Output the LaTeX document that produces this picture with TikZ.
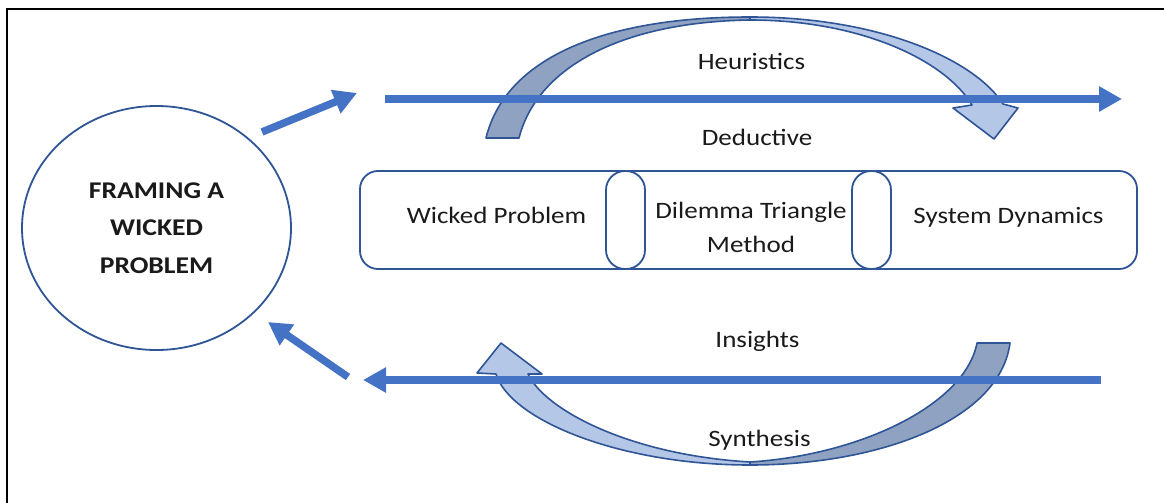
\documentclass[tikz,border=0pt]{standalone}
\usepackage{fontspec}
\setmainfont{Carlito}
\usepackage{graphicx}
\usetikzlibrary{arrows.meta,shapes.geometric}

\definecolor{flowblue}{HTML}{4472C4}
\definecolor{edgeblue}{HTML}{2F5597}
\definecolor{bandshade}{HTML}{8FA2C1}
\definecolor{bandlight}{HTML}{B4C7E7}
\definecolor{ink}{HTML}{1A1A1A}

% slightly widened, centred lines of text
\newcommand\widetext[1]{\scalebox{1.15}[1]{\begin{tabular}{@{}c@{}}#1\end{tabular}}}

\begin{document}
\begin{tikzpicture}[x=1pt,y=-1pt,
  lbl/.style={font=\fontsize{23.5}{34}\selectfont, text=ink, inner sep=0pt, anchor=base},
  titlecircle/.style={ellipse, draw=edgeblue, line width=1.8pt, fill=white,
    minimum width=269pt, minimum height=244pt, inner sep=0pt,
    font=\bfseries\fontsize{24}{37.5}\selectfont, text=ink},
  stagebox/.style={draw=edgeblue, line width=1.8pt, fill=white, rounded corners=18pt,
    minimum width=777pt, minimum height=98pt, inner sep=0pt},
  joint/.style={draw=edgeblue, line width=1.8pt, fill=white, rounded corners=19pt,
    minimum width=39pt, minimum height=98pt, inner sep=0pt},
  flow/.style={draw=flowblue, line width=7.5pt,
    -{Triangle[length=23pt,width=24pt]}},
  bandA/.style={fill=bandshade, draw=edgeblue, line width=1.6pt, line join=round},
  bandB/.style={fill=bandlight, draw=edgeblue, line width=1.6pt, line join=round}]

\useasboundingbox (0,0) rectangle (1164,503);
\fill[white] (0,0) rectangle (1164,503);

% outer frame (left and top edges)
\draw[line width=2pt] (7,503) -- (7,9.5) -- (1164,9.5);

% central circle
\node[titlecircle] (frame) at (156.5,228) {\widetext{FRAMING A\\WICKED\\PROBLEM}};

% the three stages
\node[stagebox] (stages) at (748.5,220) {};
\node[joint] (jointA) at (625.5,220) {};
\node[joint] (jointB) at (871.5,220) {};
\node[lbl] (wicked) at (496.5,223) {\widetext{Wicked Problem}};
\node[lbl] (dilemma) at (751,218) {\scalebox{1.15}[1]{\begin{tabular}[t]{@{}c@{}}Dilemma Triangle\\Method\end{tabular}}};
\node[lbl] (sysdyn) at (1008.5,223) {\widetext{System Dynamics}};

% upper curved arrow: rising tail, falling head
\path[bandA] (486,138) .. controls (505,60) and (600,17) .. (750,17)
  -- (750,20) .. controls (620,22) and (537,68) .. (519,138) -- cycle;
\path[bandB] (750,17) .. controls (880,17) and (975,60) .. (1003,104)
  -- (1018,108) -- (994,139) -- (953,108) -- (972,105)
  .. controls (945,60) and (860,20) .. (750,20) -- cycle;

% lower curved arrow: tail on the right, head on the left
\path[bandA] (977,343) -- (1010,343) .. controls (1000,420) and (880,465) .. (750,465)
  -- (750,462) .. controls (860,455) and (965,405) .. (977,343) -- cycle;
\path[bandB] (501,343) -- (542,374) -- (528,374)
  .. controls (545,410) and (630,455) .. (750,462)
  -- (750,465) .. controls (620,465) and (510,420) .. (496,374)
  -- (477,373) -- cycle;

% labels along the loops
\node[lbl] (heur) at (751.5,69) {\widetext{Heuristics}};
\node[lbl] (deduct) at (757,145) {\widetext{Deductive}};
\node[lbl] (insight) at (757.5,347) {\widetext{Insights}};
\node[lbl] (synth) at (759.5,446) {\widetext{Synthesis}};

% straight flow arrows
\coordinate (outS) at (262,132);
\coordinate (outE) at (357,93);
\coordinate (topS) at (385,99);
\coordinate (topE) at (1122,99);
\coordinate (botS) at (1101,380);
\coordinate (botE) at (363,380);
\coordinate (inS) at (348,377);
\coordinate (inE) at (268,322);

\draw[flow] (outS) -- (outE);
\draw[flow] (topS) -- (topE);
\draw[flow] (botS) -- (botE);
\draw[flow] (inS) -- (inE);
\end{tikzpicture}
\end{document}
